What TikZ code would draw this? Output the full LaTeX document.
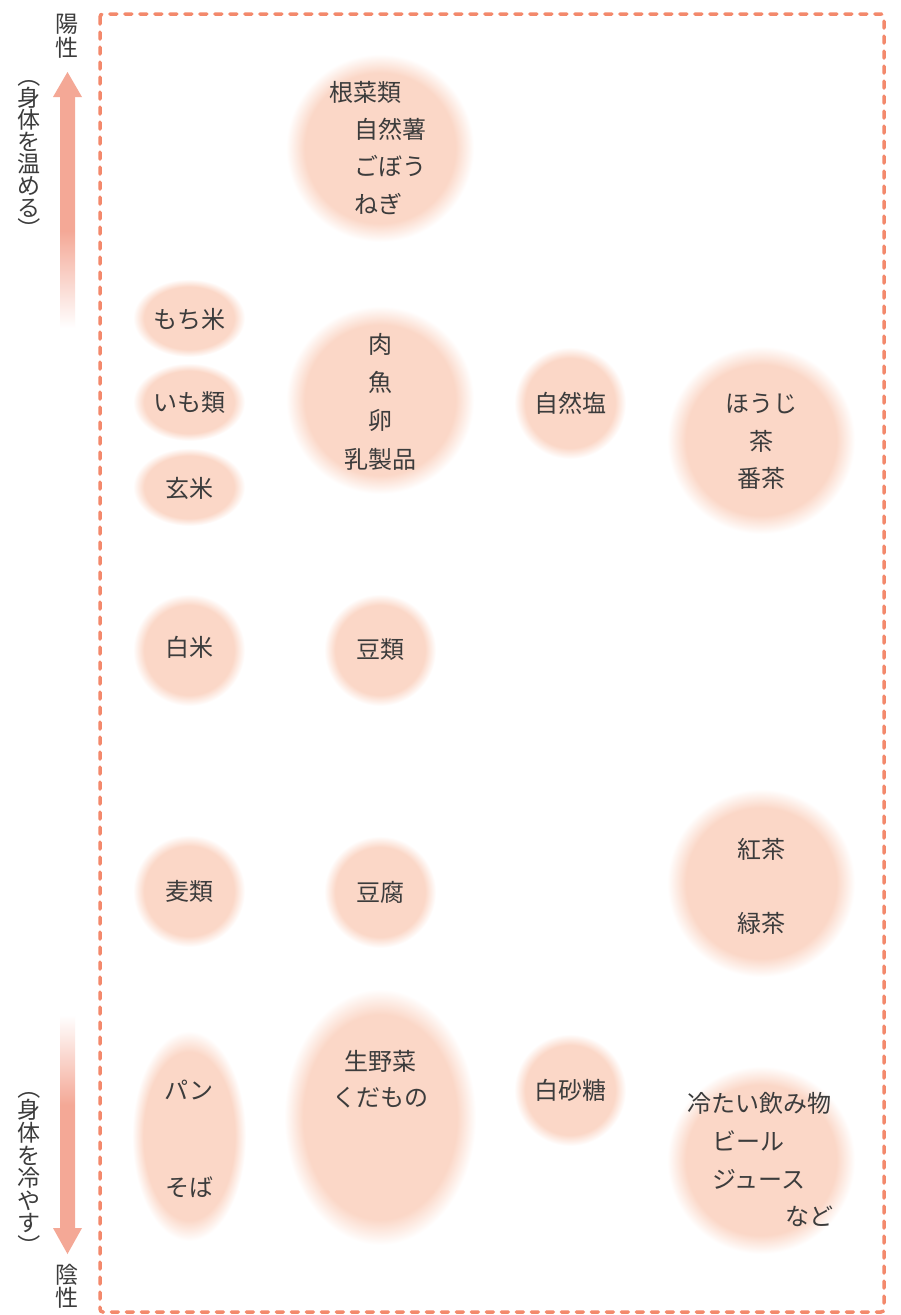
\documentclass[tikz,border=0pt]{standalone}
\usepackage{fontspec}
\newfontfamily\jp{Noto Sans CJK JP}
\usetikzlibrary{shapes.geometric}
\definecolor{blobc}{RGB}{251,215,199}
\definecolor{arrowc}{RGB}{244,168,150}
\definecolor{dashc}{RGB}{243,137,108}
\definecolor{textc}{RGB}{60,60,60}
\pgfdeclareradialshading{blobsh}{\pgfpoint{0bp}{0bp}}{color(0bp)=(blobc); color(20bp)=(blobc); color(25bp)=(white); color(50bp)=(white)}
\pgfdeclareverticalshading{fadeup}{100bp}{color(0bp)=(white); color(25bp)=(white); color(46bp)=(arrowc); color(75bp)=(arrowc); color(100bp)=(arrowc)}
\pgfdeclareverticalshading{fadedown}{100bp}{color(0bp)=(arrowc); color(54bp)=(arrowc); color(75bp)=(white); color(100bp)=(white)}
\tikzset{
  bl/.style args={#1x#2}{ellipse, shade, shading=blobsh, draw=none, inner sep=0pt, minimum width=#1pt, minimum height=#2pt},
  txt/.style={text=textc, font=\jp\fontsize{24}{28}\selectfont, inner sep=0pt},
  vtxt/.style={text=textc, font=\jp\fontsize{23}{26}\selectfont, inner sep=0pt},
  frame/.style={draw=dashc, line width=3.5pt, dash pattern=on 7pt off 8pt, line cap=round, rounded corners=3pt}
}
\begin{document}
\begin{tikzpicture}[x=1pt,y=-1pt]
\useasboundingbox (0,0) rectangle (900,1315);
\fill[white] (0,0) rectangle (900,1315);
% frame
\draw[frame] (100,14) rectangle (884,1312);
% axis arrows
\shade[shading=fadeup] (60,96) rectangle (75,328);
\fill[arrowc] (53,97) -- (82,97) -- (67.5,72) -- cycle;
\shade[shading=fadedown] (60,1015) rectangle (75,1229);
\fill[arrowc] (53,1228) -- (82,1228) -- (67.5,1254) -- cycle;
% axis labels
\node[vtxt] (y1) at (67,24) {陽};
\node[vtxt] (y2) at (67,48) {性};
\node[vtxt] (n1) at (67,1275) {陰};
\node[vtxt] (n2) at (67,1298) {性};
\node[vtxt, rotate=-90] (w0) at (29,76) {（};
\node[vtxt] (w1) at (29,98) {身};
\node[vtxt] (w2) at (29,120) {体};
\node[vtxt] (w3) at (29,142) {を};
\node[vtxt] (w4) at (29,164) {温};
\node[vtxt] (w5) at (29,186) {め};
\node[vtxt] (w6) at (29,208) {る};
\node[vtxt, rotate=-90] (w7) at (29,229) {）};
\node[vtxt, rotate=-90] (c0) at (29,1088) {（};
\node[vtxt] (c1) at (29,1110) {身};
\node[vtxt] (c2) at (29,1133) {体};
\node[vtxt] (c3) at (29,1156) {を};
\node[vtxt] (c4) at (29,1178) {冷};
\node[vtxt] (c5) at (29,1201) {や};
\node[vtxt] (c6) at (29,1223) {す};
\node[vtxt, rotate=-90] (c7) at (29,1246) {）};
% blobs
\node[bl=188x188] (b1) at (380,148) {};
\node[bl=188x188] (b2) at (380,400) {};
\node[bl=112x78] (b3) at (189,318) {};
\node[bl=112x78] (b4) at (189,402) {};
\node[bl=112x78] (b5) at (189,487) {};
\node[bl=112x112] (b6) at (189,650) {};
\node[bl=112x112] (b7) at (380,650) {};
\node[bl=112x112] (b8) at (570,403) {};
\node[bl=188x188] (b9) at (761,440) {};
\node[bl=112x112] (b10) at (189,891) {};
\node[bl=112x112] (b11) at (380,892) {};
\node[bl=188x188] (b12) at (761,883) {};
\node[bl=114x210] (b13) at (189,1136) {};
\node[bl=192x256] (b14) at (380,1117) {};
\node[bl=112x112] (b15) at (570,1090) {};
\node[bl=188x188] (b16) at (761,1160) {};
% texts
\node[txt, anchor=west] (t1a) at (329,92) {根菜類};
\node[txt, anchor=west] (t1b) at (354,129) {自然薯};
\node[txt, anchor=west] (t1c) at (354,166) {ごぼう};
\node[txt, anchor=west] (t1d) at (354,204) {ねぎ};
\node[txt] (t2a) at (380,344) {肉};
\node[txt] (t2b) at (380,382) {魚};
\node[txt] (t2c) at (380,420) {卵};
\node[txt] (t2d) at (380,459) {乳製品};
\node[txt] (t3) at (189,319) {もち米};
\node[txt] (t4) at (189,403) {いも類};
\node[txt] (t5) at (189,488) {玄米};
\node[txt] (t6) at (189,647) {白米};
\node[txt] (t7) at (380,650) {豆類};
\node[txt] (t8) at (570,403) {自然塩};
\node[txt] (t9a) at (761,404) {ほうじ};
\node[txt] (t9b) at (761,441) {茶};
\node[txt] (t9c) at (761,478) {番茶};
\node[txt] (t10) at (189,891) {麦類};
\node[txt] (t11) at (380,892) {豆腐};
\node[txt] (t12a) at (761,849) {紅茶};
\node[txt] (t12b) at (761,923) {緑茶};
\node[txt] (t13a) at (189,1090) {パン};
\node[txt] (t13b) at (189,1187) {そば};
\node[txt] (t14a) at (380,1061) {生野菜};
\node[txt] (t14b) at (380,1098) {くだもの};
\node[txt] (t15) at (570,1090) {白砂糖};
\node[txt, anchor=west] (t16a) at (687,1103) {冷たい飲み物};
\node[txt, anchor=west] (t16b) at (712,1141) {ビール};
\node[txt, anchor=west] (t16c) at (712,1179) {ジュース};
\node[txt, anchor=west] (t16d) at (785,1216) {など};
\end{tikzpicture}
\end{document}
